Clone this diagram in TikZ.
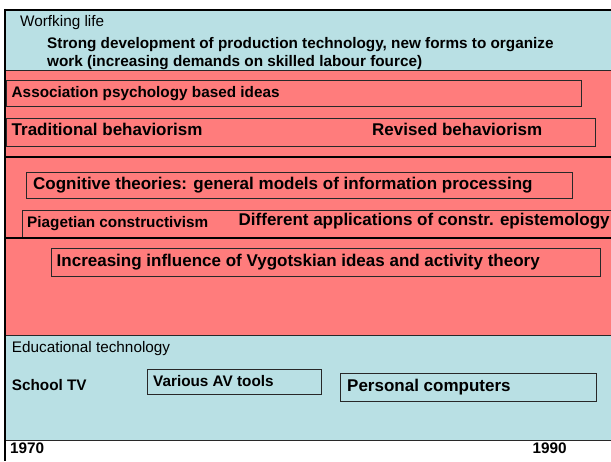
\documentclass[tikz,border=0pt]{standalone}
\usepackage{fontspec}
\setmainfont{Liberation Sans}
\definecolor{paleblue}{RGB}{185,224,228}
\definecolor{salmon}{RGB}{255,124,124}
\definecolor{boxline}{RGB}{40,40,40}
\tikzset{
  lbl/.style={anchor=mid west, inner sep=0pt, font=\fontsize{15.3}{18}\selectfont},
  lblb/.style={lbl, font=\fontsize{15.3}{18}\selectfont\bfseries},
  lblbig/.style={lbl, font=\fontsize{17}{20}\selectfont\bfseries},
  framebox/.style={draw=boxline, line width=0.8pt},
  thickrule/.style={line width=2.5pt, black},
  thinrule/.style={line width=0.7pt, boxline},
}
\begin{document}
\begin{tikzpicture}[x=1pt,y=-1pt]
\useasboundingbox (0,0) rectangle (611,461);
% bands
\fill[paleblue] (5,10) rectangle (611,70);
\fill[salmon] (5,70) rectangle (611,335);
\fill[paleblue] (5,335) rectangle (611,440.5);
% rules
\draw[thinrule] (5,70) -- (611,70);
\draw[thinrule] (5,335) -- (611,335);
\draw[thinrule] (5,440.5) -- (611,440.5);
\draw[thickrule] (5,157) -- (611,157);
\draw[thickrule] (5,238) -- (611,238);
\draw[thickrule] (5,10) -- (611,10);
\draw[thickrule] (5,8.75) -- (5,461);
% boxes
\draw[framebox] (6,80) rectangle (581,106);
\draw[framebox] (6,118) rectangle (595,146);
\draw[framebox] (26,172) rectangle (572,198);
\draw[framebox] (611,210) -- (22,210) -- (22,237);
\draw[framebox] (51,248) rectangle (600,276);
\draw[framebox] (147,369) rectangle (321,394);
\draw[framebox] (340,373) rectangle (596,401);
% texts
\node[lbl] (work) at (20,24) {Worfking life};
\node[lblb] (strong1) at (47,46) {Strong development of production technology, new forms to organize};
\node[lblb] (strong2) at (47,64) {work (increasing demands on skilled labour fource)};
\node[lblb] (assoc) at (11.5,95.3) {Association psychology based ideas};
\node[lblbig] (trad) at (11.5,133.3) {Traditional behaviorism};
\node[lblbig] (rev) at (372,133.3) {Revised behaviorism};
\node[lblbig] (cog) at (33,187) {Cognitive theories: general models of information processing};
\node[lblb] (piag) at (27,225) {Piagetian constructivism};
\node[lblbig] (diff) at (238.5,223) {Different applications of constr. epistemology};
\node[lblbig] (vyg) at (56.5,264) {Increasing influence of Vygotskian ideas and activity theory};
\node[lbl] (edtech) at (11.7,350) {Educational technology};
\node[lblb] (stv) at (11.7,388) {School TV};
\node[lblb] (av) at (153,384) {Various AV tools};
\node[lblbig] (pc) at (347,389) {Personal computers};
\node[lblb] (y70) at (10,451) {1970};
\node[lblb] (y90) at (532.5,451) {1990};
\end{tikzpicture}
\end{document}
